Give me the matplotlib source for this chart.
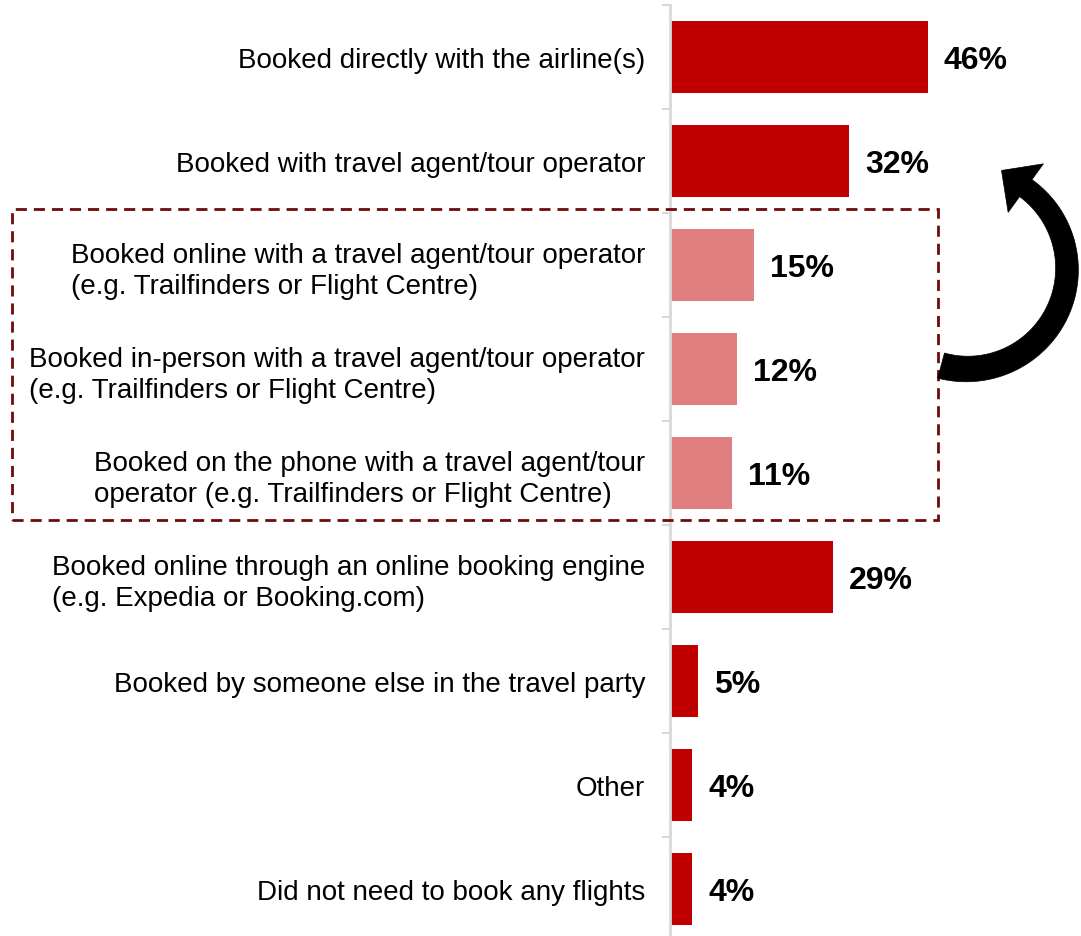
import numpy as np
import matplotlib.pyplot as plt
from matplotlib.patches import Polygon, Rectangle
from matplotlib.ticker import FixedLocator

plt.rcParams['font.family'] = ['Liberation Sans', 'DejaVu Sans']

labels = [
    "Booked directly with the airline(s)",
    "Booked with travel agent/tour operator",
    "Booked online with a travel agent/tour operator\n(e.g. Trailfinders or Flight Centre)",
    "Booked in-person with a travel agent/tour operator\n(e.g. Trailfinders or Flight Centre)",
    "Booked on the phone with a travel agent/tour\noperator (e.g. Trailfinders or Flight Centre)",
    "Booked online through an online booking engine\n(e.g. Expedia or Booking.com)",
    "Booked by someone else in the travel party",
    "Other",
    "Did not need to book any flights",
]
values = [46, 32, 15, 12, 11, 29, 5, 4, 4]
is_sub = [False, False, True, True, True, False, False, False, False]

DARK = '#C00000'
LIGHT = '#E07F7F'

W, H = 1081, 937
fig = plt.figure(figsize=(W / 100, H / 100), dpi=100)

# axes: zero line at x=670px, rows 104px tall starting at y=6px
ax = fig.add_axes([670 / W, 1 - 942 / H, (W - 670) / W, 936 / H])
ax.set_xlim(0, (W - 670) / 5.6087)
ax.set_ylim(len(values) - 0.5, -0.5)

ypos = list(range(len(values)))
colors = [LIGHT if s else DARK for s in is_sub]
ax.barh(ypos, values, height=0.70, color=colors, edgecolor='none')

for y, v in zip(ypos, values):
    ax.annotate(f"{v}%", (v, y), xytext=(11.5, -2.5), textcoords='offset points',
                ha='left', va='center', fontsize=23, fontweight='bold', color='black')

ax.set_yticks(ypos)
ax.set_yticklabels(labels, fontsize=20, multialignment='left', linespacing=1.27)
ax.tick_params(axis='y', which='major', length=0, pad=18)
ax.yaxis.set_minor_locator(FixedLocator([i - 0.5 for i in range(len(values) + 1)]))
ax.tick_params(axis='y', which='minor', length=6, width=1.5, color='#D9D9D9')
ax.set_xticks([])

for side in ['top', 'right', 'bottom']:
    ax.spines[side].set_visible(False)
ax.spines['left'].set_color('#D9D9D9')
ax.spines['left'].set_linewidth(2)


def to_fig(px, py):
    return px / W, 1 - py / H


# dashed frame around the travel agent sub-options
x0, y0 = to_fig(12, 521)
x1, y1 = to_fig(938, 210)
frame = Rectangle((x0, y0), x1 - x0, y1 - y0, transform=fig.transFigure,
                  fill=False, edgecolor='#6E0A0A', linewidth=2,
                  linestyle=(0, (4, 2.5)), clip_on=False)
fig.add_artist(frame)

# curved block arrow (pixel geometry, y measured downwards)
cx, cy, r = 967, 270, 100
a0, a1 = np.radians(-105), np.radians(54)
t = np.linspace(a0, a1, 80)
half = np.linspace(13, 10.5, t.size)
outer = [(cx + (r + h) * np.cos(a), cy - (r + h) * np.sin(a)) for a, h in zip(t, half)]
inner = [(cx + (r - h) * np.cos(a), cy - (r - h) * np.sin(a)) for a, h in zip(t, half)]
hw, hl = 30, 30
tang = np.array([-np.sin(a1), -np.cos(a1)])
base = np.array([cx + r * np.cos(a1), cy - r * np.sin(a1)])
rad = np.array([np.cos(a1), -np.sin(a1)])
head = [tuple(base + rad * hw), tuple(base + tang * hl), tuple(base - rad * hw)]
pts = outer + head + inner[::-1]
arrow = Polygon([to_fig(px, py) for px, py in pts], closed=True,
                transform=fig.transFigure, facecolor='black', edgecolor='black',
                linewidth=0.5, clip_on=False)
fig.add_artist(arrow)

fig.savefig('out.png', dpi=100)
